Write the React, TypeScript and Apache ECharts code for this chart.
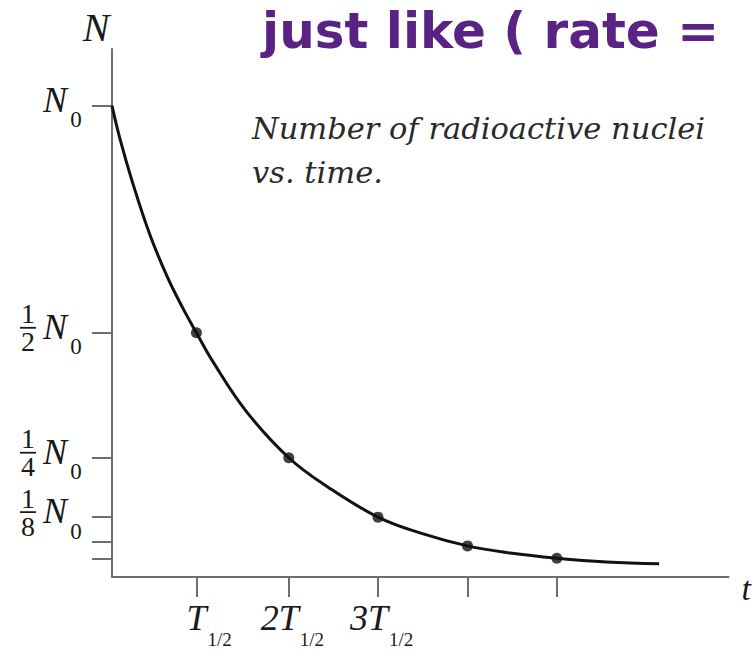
import React, { useEffect, useRef } from "react";
import * as echarts from "echarts";

// Curve of N versus t (t in units of T1/2, N in units of N0)
const curveT = [0, 0.089, 0.234, 0.424, 0.614, 0.792, 0.949, 1.127, 1.507, 1.987, 2.433, 2.99, 3.47, 3.996, 4.475, 5.0, 5.56, 6.15];
const curveN = [1.0, 0.93, 0.835, 0.727, 0.64, 0.572, 0.518, 0.459, 0.352, 0.253, 0.19, 0.127, 0.093, 0.066, 0.051, 0.04, 0.032, 0.028];

// Marked points at each half-life
const dotT = [0.949, 1.987, 2.99, 3.996, 5.0];
const dotN = [0.518, 0.253, 0.127, 0.066, 0.04];

// Tick positions
const xTickValues = [0.949, 1.987, 2.99, 3.996, 5.0];
const yTickValues = [1, 0.518, 0.253, 0.127, 0.074, 0.039];

// Tick labels
const xLabelMain = ["T", "2T", "3T"];
const xLabelSub = ["1/2", "1/2", "1/2"];
const yLabelNum = ["", "1", "1", "1"];
const yLabelDen = ["", "2", "4", "8"];
const yLabelMain = ["N", "N", "N", "N"];
const yLabelSub = ["0", "0", "0", "0"];

const title = "just like ( rate =";
const caption = "Number of radioactive nuclei\nvs. time.";

const SERIF = '"Liberation Serif", "Times New Roman", serif';
const AXIS = "#6e6e6e";

export default function App() {
  const ref = useRef<HTMLDivElement>(null);
  useEffect(() => {
    if (!ref.current) return;
    const chart = echarts.init(ref.current, undefined, { renderer: "svg" });
    const txt = (text: string, x: number, y: number, size: number, italic: boolean, align: string, valign = "middle") => ({
      type: "text",
      x,
      y,
      style: {
        text,
        fill: "#1a1a1a",
        fontSize: size,
        fontFamily: SERIF,
        fontStyle: italic ? "italic" : "normal",
        align,
        verticalAlign: valign,
      },
    });
    const option: any = {
      animation: false,
      backgroundColor: "#ffffff",
      grid: { left: 112, right: 21, top: 49, bottom: 81, containLabel: false },
      xAxis: {
        type: "value",
        min: 0,
        max: 6.93,
        name: "t",
        nameLocation: "end",
        nameGap: 13,
        nameTextStyle: { fontFamily: SERIF, fontStyle: "italic", fontSize: 34, color: "#1a1a1a", verticalAlign: "top", align: "left", padding: [-6, 0, 0, 0] },
        axisLine: { show: true, onZero: false, lineStyle: { color: AXIS, width: 2 } },
        axisTick: { show: true, inside: false, length: 20, customValues: xTickValues, lineStyle: { color: AXIS, width: 2 } },
        axisLabel: { show: false },
        splitLine: { show: false },
      },
      yAxis: {
        type: "value",
        min: 0,
        max: 1.12,
        name: "N",
        nameLocation: "end",
        nameGap: 2,
        nameTextStyle: { fontFamily: SERIF, fontStyle: "italic", fontSize: 40, color: "#1a1a1a", align: "center", verticalAlign: "bottom", padding: [0, 32, 0, 0] },
        axisLine: { show: true, onZero: false, lineStyle: { color: AXIS, width: 2 } },
        axisTick: { show: true, inside: false, length: 20, customValues: yTickValues, lineStyle: { color: AXIS, width: 2 } },
        axisLabel: { show: false },
        splitLine: { show: false },
      },
      series: [
        {
          type: "line",
          data: curveT.map((t, i) => [t, curveN[i]]),
          smooth: 0.4,
          symbol: "none",
          lineStyle: { color: "#111111", width: 3 },
          z: 3,
        },
        {
          type: "scatter",
          data: dotT.map((t, i) => [t, dotN[i]]),
          symbol: "circle",
          symbolSize: 11,
          itemStyle: { color: "#111111" },
          z: 4,
        },
        {
          type: "custom",
          clip: false,
          data: yLabelMain.map((_, i) => [0, yTickValues[i], i]),
          renderItem: (params: any, api: any) => {
            const p = api.coord([api.value(0), api.value(1)]);
            const i = api.value(2);
            const x = p[0];
            const y = p[1];
            const children: any[] = [
              txt(yLabelMain[i], x - 57, y - 6, 36, true, "center"),
              txt(yLabelSub[i], x - 36, y + 14, 23, false, "center"),
            ];
            if (yLabelNum[i]) {
              children.push(txt(yLabelNum[i], x - 84, y - 19, 28, false, "center"));
              children.push({ type: "line", shape: { x1: x - 92, y1: y - 5, x2: x - 76, y2: y - 5 }, style: { stroke: "#1a1a1a", lineWidth: 1.8 } });
              children.push(txt(yLabelDen[i], x - 84, y + 9, 28, false, "center"));
            }
            return { type: "group", children };
          },
          z: 5,
        },
        {
          type: "custom",
          clip: false,
          data: xLabelMain.map((_, i) => [xTickValues[i], 0, i]),
          renderItem: (params: any, api: any) => {
            const p = api.coord([api.value(0), api.value(1)]);
            const i = api.value(2);
            const x = p[0];
            const y = p[1];
            return {
              type: "group",
              children: [
                txt(xLabelMain[i], x + 10, y + 41, 36, true, "right"),
                txt(xLabelSub[i], x + 11, y + 62, 19, false, "left"),
              ],
            };
          },
          z: 5,
        },
      ],
      graphic: [
        {
          type: "text",
          left: 262,
          top: 6,
          style: { text: title, fill: "#5a2383", fontSize: 50, fontFamily: '"DejaVu Sans", sans-serif', fontWeight: "bold" },
        },
        {
          type: "text",
          left: 252,
          top: 106,
          style: { text: caption, fill: "#2a2a2a", fontSize: 30.5, lineHeight: 44, fontFamily: '"DejaVu Serif", serif', fontStyle: "italic" },
        },
      ],
    };
    chart.setOption(option);
    return () => chart.dispose();
  }, []);
  return <div ref={ref} style={{ position: "fixed", left: 0, top: 0, width: 754, height: 658, background: "#fff" }} />;
}
